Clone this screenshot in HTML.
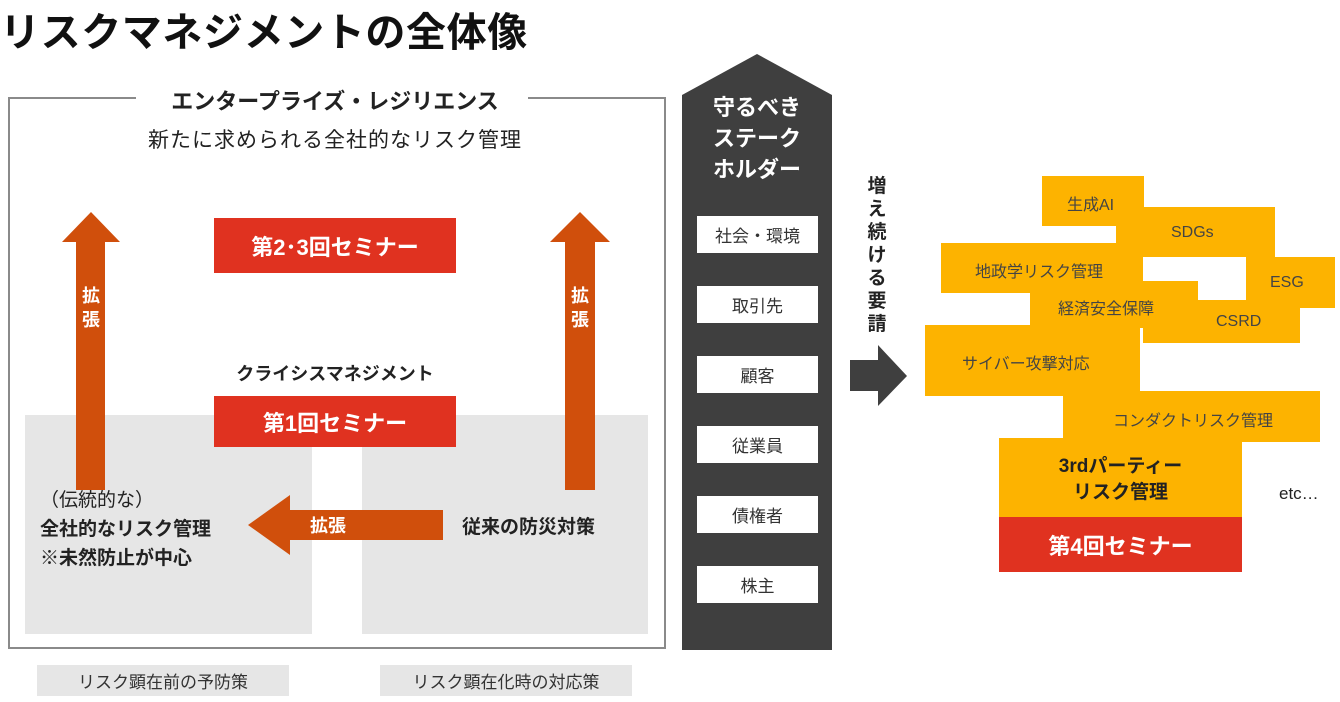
<!DOCTYPE html>
<html><head><meta charset="utf-8"><style>
*{margin:0;padding:0;box-sizing:border-box}
body{width:1340px;height:702px;background:#fff;position:relative;overflow:hidden;font-family:"Liberation Sans","Noto Sans CJK JP",sans-serif;color:#222}
.a{position:absolute}
.c{display:flex;align-items:center;justify-content:center;text-align:center}
.red{background:#e03220;color:#fff;font-weight:bold}
.o{background:#fdb300;position:absolute}
.wb{position:absolute;left:697px;width:121px;height:37px;background:#fff;font-size:17px;color:#333}
.gl{background:#e6e6e6;font-size:17px;color:#333}
</style></head><body>
<div class="a" style="left:0;top:0px;font-size:40px;font-weight:bold;letter-spacing:0.6px;color:#111;white-space:nowrap">リスクマネジメントの全体像</div>

<!-- frame -->
<div class="a" style="left:8px;top:97px;width:658px;height:552px;border:2px solid #8a8a8a;border-top:none"></div>
<div class="a" style="left:8px;top:97px;width:128px;height:2px;background:#8a8a8a"></div>
<div class="a" style="left:528px;top:97px;width:138px;height:2px;background:#8a8a8a"></div>
<div class="a" style="left:140px;top:84px;width:390px;font-size:22px;font-weight:bold;text-align:center;white-space:nowrap">エンタープライズ・レジリエンス</div>
<div class="a" style="left:130px;top:124px;width:410px;font-size:21px;letter-spacing:1px;text-align:center;white-space:nowrap">新たに求められる全社的なリスク管理</div>

<div class="a" style="left:25px;top:415px;width:287px;height:219px;background:#e6e6e6"></div>
<div class="a" style="left:362px;top:415px;width:286px;height:219px;background:#e6e6e6"></div>

<svg class="a" style="left:0;top:0" width="680" height="660">
<polygon points="91,212 120,242 105,242 105,490 76,490 76,242 62,242" fill="#d04f0c"/>
<polygon points="580,212 610,242 595,242 595,490 565,490 565,242 550,242" fill="#d04f0c"/>
<polygon points="248,525 290,495 290,510 443,510 443,540 290,540 290,555" fill="#d04f0c"/>
</svg>
<div class="a" style="left:78px;top:284px;width:26px;font-size:18px;font-weight:bold;color:#fff;line-height:24px;text-align:center">拡<br>張</div>
<div class="a" style="left:567px;top:284px;width:26px;font-size:18px;font-weight:bold;color:#fff;line-height:24px;text-align:center">拡<br>張</div>
<div class="a" style="left:310px;top:512px;font-size:18px;font-weight:bold;color:#fff">拡張</div>

<div class="a c red" style="left:214px;top:218px;width:242px;height:55px;font-size:22px">第2･3回セミナー</div>
<div class="a" style="left:214px;top:360px;width:242px;text-align:center;font-size:18px;font-weight:bold">クライシスマネジメント</div>
<div class="a c red" style="left:214px;top:396px;width:242px;height:51px;font-size:22px">第1回セミナー</div>

<div class="a" style="left:40px;top:486px;font-size:19px;line-height:29px;font-weight:bold"><span style="font-weight:normal">（伝統的な）</span><br>全社的なリスク管理<br>※未然防止が中心</div>
<div class="a" style="left:462px;top:512px;font-size:19px;font-weight:bold">従来の防災対策</div>

<div class="a c gl" style="left:37px;top:665px;width:252px;height:31px">リスク顕在前の予防策</div>
<div class="a c gl" style="left:380px;top:665px;width:252px;height:31px">リスク顕在化時の対応策</div>

<!-- dark column -->
<svg class="a" style="left:682px;top:50px" width="152" height="602">
<polygon points="75,4 150,45 150,600 0,600 0,45" fill="#3f3f3f"/>
</svg>
<div class="a" style="left:682px;top:92px;width:150px;text-align:center;color:#fff;font-weight:bold;font-size:22px;line-height:31px">守るべき<br>ステーク<br>ホルダー</div>
<div class="wb c" style="top:216px">社会・環境</div>
<div class="wb c" style="top:286px">取引先</div>
<div class="wb c" style="top:356px">顧客</div>
<div class="wb c" style="top:426px">従業員</div>
<div class="wb c" style="top:496px">債権者</div>
<div class="wb c" style="top:566px">株主</div>

<div class="a" style="left:865px;top:175px;width:24px;font-size:19px;font-weight:bold;line-height:23px;text-align:center">増<br>え<br>続<br>け<br>る<br>要<br>請</div>
<svg class="a" style="left:848px;top:340px" width="62" height="70">
<polygon points="2,20 30,20 30,5 59,36 30,66 30,51 2,51" fill="#3f3f3f"/>
</svg>

<!-- orange cluster -->
<div class="o" style="left:1042px;top:176px;width:102px;height:50px"></div>
<div class="o" style="left:1116px;top:207px;width:159px;height:50px"></div>
<div class="o" style="left:941px;top:243px;width:202px;height:50px"></div>
<div class="o" style="left:1246px;top:257px;width:89px;height:51px"></div>
<div class="o" style="left:1030px;top:280px;width:168px;height:48px"></div>
<div class="o" style="left:1143px;top:300px;width:157px;height:43px"></div>
<div class="o" style="left:1184px;top:257px;width:62px;height:43px"></div>
<div class="a" style="left:1143px;top:257px;width:103px;height:24px;background:#fff"></div>
<div class="a" style="left:1198px;top:281px;width:48px;height:19px;background:#fff"></div>
<div class="o" style="left:925px;top:325px;width:215px;height:71px"></div>
<div class="o" style="left:1063px;top:391px;width:257px;height:51px"></div>
<div class="o" style="left:999px;top:438px;width:243px;height:80px"></div>
<div class="a c red" style="left:999px;top:517px;width:243px;height:55px;font-size:22px">第4回セミナー</div>

<div class="a" style="left:1067px;top:191px;font-size:16px;color:#444">生成AI</div>
<div class="a" style="left:1171px;top:224px;font-size:16px;color:#444">SDGs</div>
<div class="a" style="left:975px;top:258px;font-size:16px;color:#444">地政学リスク管理</div>
<div class="a" style="left:1270px;top:274px;font-size:16px;color:#444">ESG</div>
<div class="a" style="left:1058px;top:295px;font-size:16px;color:#444">経済安全保障</div>
<div class="a" style="left:1216px;top:313px;font-size:16px;color:#444">CSRD</div>
<div class="a" style="left:962px;top:350px;font-size:16px;color:#444">サイバー攻撃対応</div>
<div class="a" style="left:1113px;top:407px;font-size:16px;color:#444">コンダクトリスク管理</div>
<div class="a" style="left:999px;top:454px;width:243px;text-align:center;font-size:19px;font-weight:bold;line-height:26px;color:#222">3rdパーティー<br>リスク管理</div>
<div class="a" style="left:1279px;top:484px;font-size:17px;color:#222">etc…</div>
</body></html>
